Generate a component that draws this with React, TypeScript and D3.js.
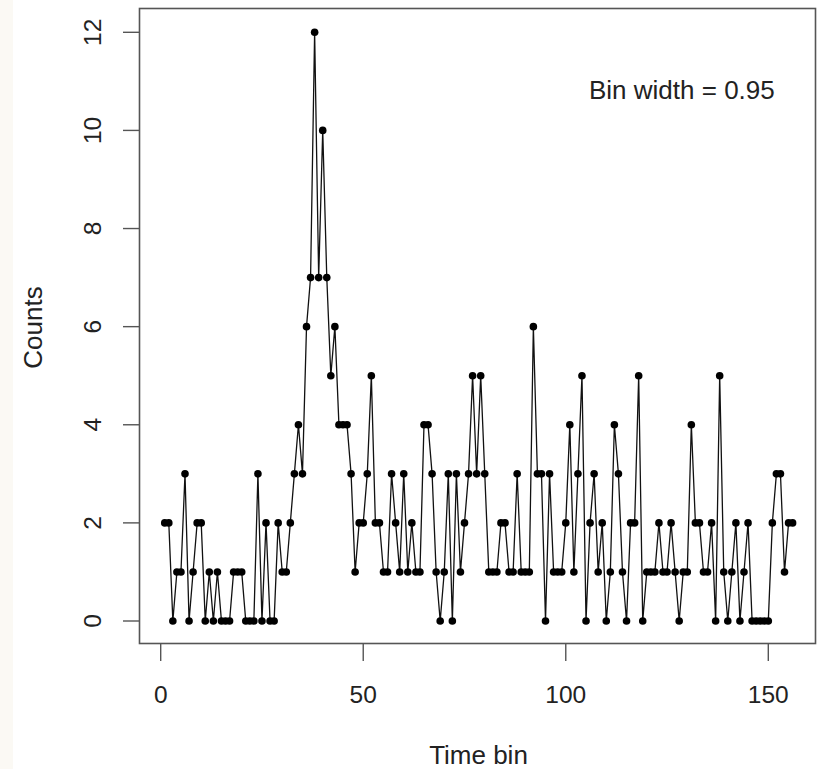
import React from 'react';
import * as d3 from 'd3';

// counts per time bin, bins 1..156
const counts: number[] = [
  2, 2, 0, 1, 1, 3, 0, 1, 2, 2,
  0, 1, 0, 1, 0, 0, 0, 1, 1, 1,
  0, 0, 0, 3, 0, 2, 0, 0, 2, 1,
  1, 2, 3, 4, 3, 6, 7, 12, 7, 10,
  7, 5, 6, 4, 4, 4, 3, 1, 2, 2,
  3, 5, 2, 2, 1, 1, 3, 2, 1, 3,
  1, 2, 1, 1, 4, 4, 3, 1, 0, 1,
  3, 0, 3, 1, 2, 3, 5, 3, 5, 3,
  1, 1, 1, 2, 2, 1, 1, 3, 1, 1,
  1, 6, 3, 3, 0, 3, 1, 1, 1, 2,
  4, 1, 3, 5, 0, 2, 3, 1, 2, 0,
  1, 4, 3, 1, 0, 2, 2, 5, 0, 1,
  1, 1, 2, 1, 1, 2, 1, 0, 1, 1,
  4, 2, 2, 1, 1, 2, 0, 5, 1, 0,
  1, 2, 0, 1, 2, 0, 0, 0, 0, 0,
  2, 3, 3, 1, 2, 2,
];
const bins: number[] = counts.map((_, i) => i + 1);

const xTicks: number[] = [0, 50, 100, 150];
const yTicks: number[] = [0, 2, 4, 6, 8, 10, 12];

const W = 817;
const H = 769;
const box = { left: 139.5, top: 8.5, right: 815.5, bottom: 643.5 };
const FONT = '"Liberation Sans", Arial, Helvetica, sans-serif';
const INK = '#222';
const AXIS = '#555';

export default function App() {
  const x = d3.scaleLinear().domain([0, 150]).range([160.7, 768.3]);
  const y = d3.scaleLinear().domain([0, 12]).range([621, 32.3]);

  const pts = bins.map((b, i) => [b, counts[i]] as [number, number]);
  const line = d3.line<[number, number]>()
    .x(d => x(d[0]))
    .y(d => y(d[1]));

  return (
    <svg
      width={W}
      height={H}
      style={{ position: 'absolute', left: 0, top: 0, display: 'block', background: '#fff' }}
      fontFamily={FONT}
    >
      <rect x={0} y={0} width={W} height={H} fill="#fff" />
      <rect x={0} y={0} width={13} height={H} fill="#fbf9f4" />

      {/* plot box */}
      <rect
        x={box.left}
        y={box.top}
        width={box.right - box.left}
        height={box.bottom - box.top}
        fill="none"
        stroke={AXIS}
        strokeWidth={1.6}
      />

      {/* x axis ticks */}
      {xTicks.map(t => (
        <g key={'x' + t}>
          <line x1={x(t)} x2={x(t)} y1={box.bottom} y2={661} stroke={AXIS} strokeWidth={1.4} />
          <text x={x(t)} y={703} textAnchor="middle" fontSize={24.5} fill={INK}>{t}</text>
        </g>
      ))}

      {/* y axis ticks */}
      {yTicks.map(t => (
        <g key={'y' + t}>
          <line x1={123} x2={box.left} y1={y(t)} y2={y(t)} stroke={AXIS} strokeWidth={1.4} />
          <text
            transform={`translate(100.5,${y(t)}) rotate(-90)`}
            textAnchor="middle"
            fontSize={24.5}
            fill={INK}
          >{t}</text>
        </g>
      ))}

      {/* series */}
      <path d={line(pts) ?? ''} fill="none" stroke="#111" strokeWidth={1.3} />
      {pts.map(d => (
        <circle key={d[0]} cx={x(d[0])} cy={y(d[1])} r={3.8} fill="#000" />
      ))}

      {/* titles */}
      <text x={478.5} y={764} textAnchor="middle" fontSize={26} fill={INK}>Time bin</text>
      <text
        transform={`translate(41.5,327.5) rotate(-90)`}
        textAnchor="middle"
        fontSize={26}
        fill={INK}
      >Counts</text>
      <text x={589} y={98.5} fontSize={26} fill={INK}>Bin width = 0.95</text>
    </svg>
  );
}
